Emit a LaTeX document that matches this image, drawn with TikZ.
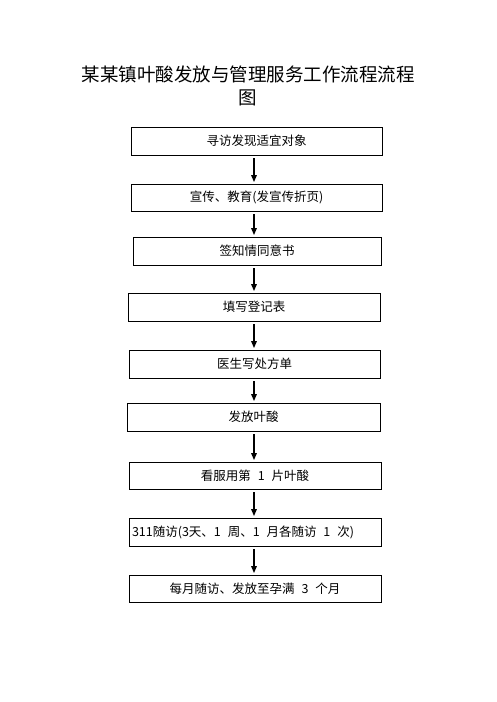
\documentclass[tikz,border=0pt]{standalone}
\usepackage{fontspec}
\setmainfont{Noto Sans CJK SC}
\usetikzlibrary{arrows.meta}
\newcommand{\gp}{\hspace{0.55em}}
\tikzset{
  stepbox/.style={draw=black, line width=0.8pt, inner sep=0pt, font=\fontsize{12.5}{14}\selectfont, anchor=center},
  flowarrow/.style={line width=1.4pt, -{Triangle[length=7pt,width=5.5pt]}}
}
\begin{document}
\begin{tikzpicture}[x=1pt,y=-1pt]
\useasboundingbox (0,0) rectangle (496,702);
\node[font=\fontsize{18.5}{22.5}\selectfont, align=center] (title) at (248,86) {某某镇叶酸发放与管理服务工作流程流程\\图};
\node[stepbox, minimum width=251pt, minimum height=28pt] (b1) at (256.5,141) {寻访发现适宜对象};
\node[stepbox, minimum width=251pt, minimum height=27pt] (b2) at (256.5,197.5) {宣传、教育(发宣传折页)};
\node[stepbox, minimum width=248pt, minimum height=28pt] (b3) at (257,251) {签知情同意书};
\node[stepbox, minimum width=252pt, minimum height=28pt] (b4) at (254,307) {填写登记表};
\node[stepbox, minimum width=251pt, minimum height=28pt] (b5) at (254.5,364) {医生写处方单};
\node[stepbox, minimum width=253pt, minimum height=28pt] (b6) at (253.5,417) {发放叶酸};
\node[stepbox, minimum width=252pt, minimum height=27pt] (b7) at (255,475.5) {看服用第\gp 1\gp 片叶酸};
\node[stepbox, minimum width=252pt, minimum height=28pt, text width=246pt, align=left] (b8) at (255,532) {311随访(3天、1\gp 周、1\gp 月各随访\gp 1\gp 次)};
\node[stepbox, minimum width=252pt, minimum height=27pt] (b9) at (255,588.5) {每月随访、发放至孕满\gp 3\gp 个月};
\coordinate (ax) at (254,0);
\foreach \a/\b in {b1/b2,b2/b3,b3/b4,b4/b5,b5/b6,b6/b7,b7/b8,b8/b9}{
  \draw[flowarrow] ([yshift=-3pt]\a.south -| ax) -- ([yshift=1.5pt]\b.north -| ax);
}
\end{tikzpicture}
\end{document}
